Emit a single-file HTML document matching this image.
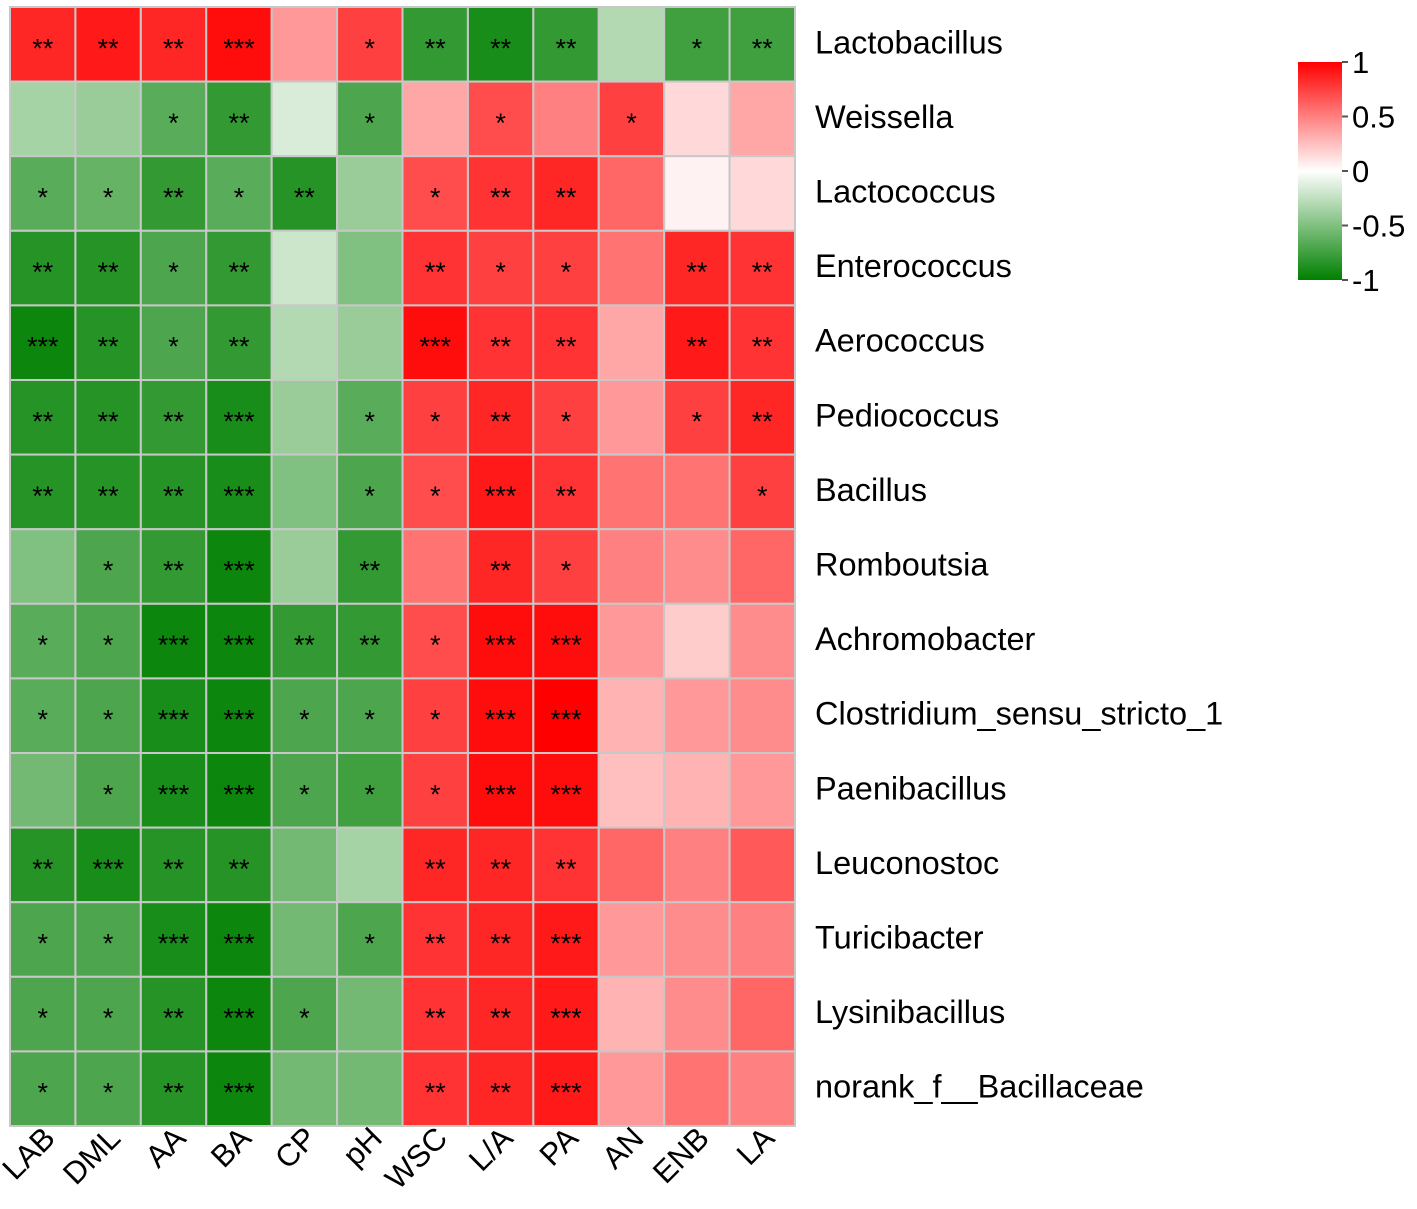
<!DOCTYPE html>
<html><head><meta charset="utf-8"><style>
html,body{margin:0;padding:0;background:#fff;}
svg text{font-family:"Liberation Sans",Arial,sans-serif;fill:#000;}
</style></head><body>
<svg id="chart" width="1417" height="1204" xmlns="http://www.w3.org/2000/svg">
<defs><linearGradient id="lg" x1="0" y1="0" x2="0" y2="1">
<stop offset="0" stop-color="#ff0000"/><stop offset="0.5" stop-color="#ffffff"/><stop offset="1" stop-color="#008000"/>
</linearGradient></defs>
<g id="cells"></g><g id="rowlabels"></g><g id="collabels"></g>
<g id="legend">
<rect x="1298" y="62" width="44" height="218" fill="url(#lg)"/>
</g>
</svg>
<script>
const columns=["LAB","DML","AA","BA","CP","pH","WSC","L/A","PA","AN","ENB","LA"];
const rows=["Lactobacillus","Weissella","Lactococcus","Enterococcus","Aerococcus","Pediococcus","Bacillus","Romboutsia","Achromobacter","Clostridium_sensu_stricto_1","Paenibacillus","Leuconostoc","Turicibacter","Lysinibacillus","norank_f__Bacillaceae"];
const values=[
[0.85,0.9,0.85,0.95,0.4,0.75,-0.8,-0.9,-0.8,-0.3,-0.75,-0.75],
[-0.35,-0.4,-0.65,-0.8,-0.15,-0.7,0.35,0.7,0.5,0.75,0.15,0.35],
[-0.65,-0.6,-0.8,-0.65,-0.85,-0.4,0.7,0.8,0.85,0.6,0.05,0.15],
[-0.85,-0.85,-0.7,-0.8,-0.2,-0.5,0.8,0.75,0.75,0.55,0.85,0.8],
[-0.95,-0.85,-0.7,-0.8,-0.3,-0.4,0.95,0.8,0.8,0.35,0.9,0.8],
[-0.85,-0.85,-0.8,-0.9,-0.4,-0.65,0.75,0.85,0.75,0.4,0.75,0.85],
[-0.85,-0.85,-0.85,-0.9,-0.5,-0.7,0.7,0.9,0.8,0.55,0.55,0.75],
[-0.5,-0.7,-0.8,-0.95,-0.4,-0.8,0.55,0.85,0.75,0.5,0.45,0.6],
[-0.65,-0.7,-0.95,-0.95,-0.8,-0.8,0.7,0.95,0.95,0.4,0.2,0.45],
[-0.65,-0.7,-0.9,-0.95,-0.7,-0.7,0.75,0.95,1.0,0.3,0.4,0.45],
[-0.55,-0.7,-0.9,-0.95,-0.7,-0.75,0.75,0.95,0.95,0.25,0.3,0.4],
[-0.85,-0.9,-0.85,-0.85,-0.55,-0.35,0.85,0.85,0.8,0.6,0.5,0.65],
[-0.7,-0.7,-0.9,-0.95,-0.55,-0.7,0.8,0.85,0.9,0.4,0.45,0.5],
[-0.7,-0.7,-0.85,-0.95,-0.7,-0.55,0.8,0.85,0.9,0.3,0.45,0.6],
[-0.7,-0.7,-0.85,-0.95,-0.55,-0.55,0.8,0.85,0.9,0.4,0.55,0.5]
];
const stars=[
["**","**","**","***","","*","**","**","**","","*","**"],
["","","*","**","","*","","*","","*","",""],
["*","*","**","*","**","","*","**","**","","",""],
["**","**","*","**","","","**","*","*","","**","**"],
["***","**","*","**","","","***","**","**","","**","**"],
["**","**","**","***","","*","*","**","*","","*","**"],
["**","**","**","***","","*","*","***","**","","","*"],
["","*","**","***","","**","","**","*","","",""],
["*","*","***","***","**","**","*","***","***","","",""],
["*","*","***","***","*","*","*","***","***","","",""],
["","*","***","***","*","*","*","***","***","","",""],
["**","***","**","**","","","**","**","**","","",""],
["*","*","***","***","","*","**","**","***","","",""],
["*","*","**","***","*","","**","**","***","","",""],
["*","*","**","***","","","**","**","***","","",""]
];
const legendTicks=[1,0.5,0,-0.5,-1];
const NS="http://www.w3.org/2000/svg";
const X0=10,X1=795,Y0=7,Y1=1126;
const cw=(X1-X0)/columns.length, ch=(Y1-Y0)/rows.length;
const xPos=i=>X0+i*cw, yPos=j=>Y0+j*ch;
const legY=v=>62+(1-v)/2*218;
function color(v){
  if(v>=0){const c=Math.round(255*(1-v));return `rgb(255,${c},${c})`;}
  const a=-v;const c=Math.round(255*(1-a));return `rgb(${c},${Math.round(255-127*a)},${c})`;
}
function mk(tag,attrs,parent){const e=document.createElementNS(NS,tag);for(const k in attrs)e.setAttribute(k,attrs[k]);parent.appendChild(e);return e;}
const gc=document.getElementById('cells');
rows.forEach((r,j)=>{columns.forEach((c,i)=>{
  const rect=mk('rect',{x:xPos(i),y:yPos(j),width:cw,height:ch,fill:color(values[j][i]),stroke:'#c8c8c8','stroke-width':2},gc);
  
  
  if(stars[j][i]){
    const t=mk('text',{x:xPos(i)+cw/2,y:yPos(j)+ch/2+13,'text-anchor':'middle','font-size':27},gc);
    t.textContent=stars[j][i];
    
    
  }
});});
const gr=document.getElementById('rowlabels');
rows.forEach((r,j)=>{
  const t=mk('text',{x:815,y:yPos(j)+ch/2+9,'font-size':32.5},gr);
  t.textContent=r;
  
  
});
const gcl=document.getElementById('collabels');
columns.forEach((c,i)=>{
  const x=xPos(i)+cw/2+14,y=1140;
  const t=mk('text',{x:x,y:y,'font-size':31,'text-anchor':'end',transform:`rotate(-45 ${x} ${y})`},gcl);
  t.textContent=c;
  
  
});
const gl=document.getElementById('legend');
legendTicks.forEach(v=>{
  const y=legY(v);
  mk('line',{x1:1342,x2:1348,y1:y,y2:y,stroke:'#555','stroke-width':2},gl);
  const t=mk('text',{x:1352,y:y+11,'font-size':31},gl);
  t.textContent=v===0.5?'0.5':v===-0.5?'-0.5':String(v);
  
  
});
</script>
</body></html>
